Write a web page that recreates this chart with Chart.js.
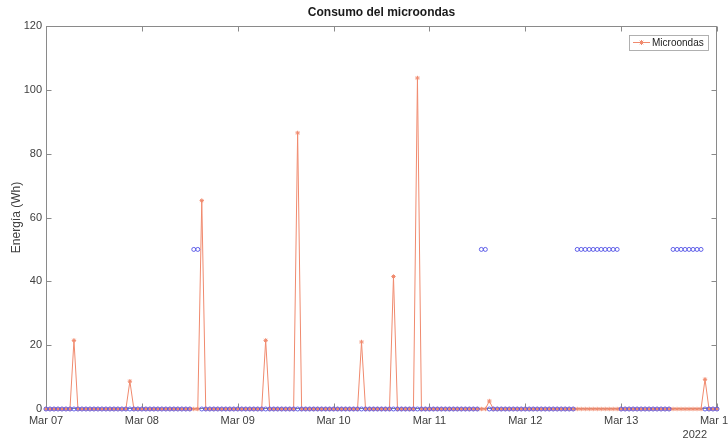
<!DOCTYPE html>
<html><head><meta charset="utf-8">
<script src="https://cdn.jsdelivr.net/npm/chart.js@4/dist/chart.umd.min.js"></script>
<style>html,body{margin:0;padding:0;background:#fff}#wrap{width:728px;height:441px}</style>
</head><body><div id="wrap"><canvas id="c" width="728" height="441"></canvas></div>
<script>
const chartTitle = 'Consumo del microondas';
const yTitle = 'Energía (Wh)';
const yearLabel = '2022';
const legendLabel = 'Microondas';
const dayLabels = ['Mar 07','Mar 08','Mar 09','Mar 10','Mar 11','Mar 12','Mar 13','Mar 14'];
const yTicks = [0,20,40,60,80,100,120];

// hourly energy (Wh), Mar 07 00:00 .. Mar 14 00:00
const microondas = [
  0,0,0,0,0,0,0,21.5,0,0,0,0,0,0,0,0,0,0,0,0,0,8.7,0,0,
  0,0,0,0,0,0,0,0,0,0,0,0,0,0,0,65.3,0,0,0,0,0,0,0,0,
  0,0,0,0,0,0,0,21.5,0,0,0,0,0,0,0,86.5,0,0,0,0,0,0,0,0,
  0,0,0,0,0,0,0,21,0,0,0,0,0,0,0,41.5,0,0,0,0,0,103.7,0,0,
  0,0,0,0,0,0,0,0,0,0,0,0,0,0,0,2.5,0,0,0,0,0,0,0,0,
  0,0,0,0,0,0,0,0,0,0,0,0,0,0,0,0,0,0,0,0,0,0,0,0,
  0,0,0,0,0,0,0,0,0,0,0,0,0,0,0,0,0,0,0,0,0,9.3,0,0,
  0
];
// hourly state markers (0 / 50)
const estado = [
  0,0,0,0,0,0,0,0,0,0,0,0,0,0,0,0,0,0,0,0,0,0,0,0,
  0,0,0,0,0,0,0,0,0,0,0,0,0,50,50,0,0,0,0,0,0,0,0,0,
  0,0,0,0,0,0,0,0,0,0,0,0,0,0,0,0,0,0,0,0,0,0,0,0,
  0,0,0,0,0,0,0,0,0,0,0,0,0,0,0,0,0,0,0,0,0,0,0,0,
  0,0,0,0,0,0,0,0,0,0,0,0,0,50,50,0,0,0,0,0,0,0,0,0,
  0,0,0,0,0,0,0,0,0,0,0,0,0,50,50,50,50,50,50,50,50,50,50,50,
  0,0,0,0,0,0,0,0,0,0,0,0,0,50,50,50,50,50,50,50,50,0,0,0,
  0
];

const ORANGE = 'rgb(240,138,110)';
const BLUE = 'rgb(80,80,230)';
const AXIS = '#8a8a8a';
const FONT = '"Liberation Sans", Arial, Helvetica, sans-serif';

const deco = {
  id: 'deco',
  beforeDatasetsDraw(chart) {
    const {ctx, chartArea: a, scales: {x, y}} = chart;
    ctx.save();
    const L = Math.round(a.left) + 0.5, R = Math.round(a.right) - 0.5;
    const T = Math.round(a.top) + 0.5, B = Math.round(a.bottom) - 0.5;
    ctx.strokeStyle = AXIS; ctx.lineWidth = 1;
    ctx.strokeRect(L, T, R - L, B - T);
    ctx.beginPath();
    x.ticks.forEach(t => {
      const px = Math.round(x.getPixelForValue(t.value)) + 0.5;
      ctx.moveTo(px, B); ctx.lineTo(px, B - 5);
      ctx.moveTo(px, T); ctx.lineTo(px, T + 5);
    });
    y.ticks.forEach(t => {
      const py = Math.round(y.getPixelForValue(t.value)) + 0.5;
      ctx.moveTo(L, py); ctx.lineTo(L + 5, py);
      ctx.moveTo(R, py); ctx.lineTo(R - 5, py);
    });
    ctx.stroke();
    ctx.restore();
  },
  afterDraw(chart) {
    const {ctx, chartArea: a} = chart;
    ctx.save();
    // title
    ctx.fillStyle = '#1a1a1a';
    ctx.font = 'bold 12px ' + FONT;
    ctx.textAlign = 'center'; ctx.textBaseline = 'middle';
    ctx.fillText(chartTitle, (a.left + a.right) / 2, 13);
    // year label
    ctx.fillStyle = '#404040';
    ctx.font = '11px ' + FONT;
    ctx.textAlign = 'right';
    ctx.fillText(yearLabel, a.right - 10, 435);
    // legend
    const lx = a.right - 88, ly = a.top + 9, lw = 79, lh = 15;
    ctx.fillStyle = '#fff';
    ctx.fillRect(lx, ly, lw, lh);
    ctx.strokeStyle = '#a8a8a8';
    ctx.strokeRect(Math.round(lx) + 0.5, Math.round(ly) + 0.5, lw, lh);
    const my = ly + lh / 2;
    ctx.strokeStyle = ORANGE; ctx.lineWidth = 1;
    ctx.beginPath(); ctx.moveTo(lx + 4, my); ctx.lineTo(lx + 21, my); ctx.stroke();
    Chart.helpers.drawPoint(ctx, {pointStyle: 'star', radius: 2.5, borderWidth: 1}, lx + 12.5, my);
    ctx.fillStyle = '#222';
    ctx.font = '10px ' + FONT;
    ctx.textAlign = 'left';
    ctx.fillText(legendLabel, lx + 23, my + 0.5);
    ctx.restore();
  }
};

new Chart(document.getElementById('c'), {
  type: 'line',
  data: {
    datasets: [
      {
        label: legendLabel,
        data: microondas.map((v, i) => ({x: i, y: v})),
        borderColor: ORANGE, borderWidth: 1,
        pointStyle: 'star', pointRadius: 2.2, pointBorderWidth: 1,
        pointBorderColor: ORANGE, pointBackgroundColor: ORANGE,
        tension: 0, order: 1, clip: false
      },
      {
        label: 'Estado',
        data: estado.map((v, i) => ({x: i, y: v})),
        showLine: false,
        pointStyle: 'circle', pointRadius: 2, pointBorderWidth: 0.9,
        pointBorderColor: BLUE, pointBackgroundColor: 'rgba(0,0,0,0)',
        borderColor: BLUE, order: 0, clip: false
      }
    ]
  },
  options: {
    responsive: false, animation: false, devicePixelRatio: 1,
    layout: {padding: {top: 26, right: 11, left: 0, bottom: 0}},
    plugins: {legend: {display: false}, title: {display: false}, tooltip: {enabled: false}},
    scales: {
      x: {
        type: 'linear', min: 0, max: (dayLabels.length - 1) * 24,
        afterBuildTicks: s => { s.ticks = dayLabels.map((_, i) => ({value: i * 24})); },
        afterFit: s => { s.height = 32; s.paddingLeft = 0; s.paddingRight = 0; },
        grid: {display: false, drawTicks: false, tickLength: 0}, border: {display: false},
        ticks: {
          callback: v => dayLabels[Math.round(v / 24)] ?? '',
          font: {family: FONT, size: 11}, color: '#404040', padding: 5,
          maxRotation: 0, autoSkip: false
        }
      },
      y: {
        min: 0, max: 120,
        afterBuildTicks: s => { s.ticks = yTicks.map(v => ({value: v})); },
        afterFit: s => { s.width = 46; },
        grid: {display: false, drawTicks: false, tickLength: 0}, border: {display: false},
        ticks: {font: {family: FONT, size: 11}, color: '#404040', padding: 4},
        title: {display: true, text: yTitle, font: {family: FONT, size: 12}, color: '#404040', padding: {top: 9, bottom: 0}}
      }
    }
  },
  plugins: [deco]
});
</script>
</body></html>
